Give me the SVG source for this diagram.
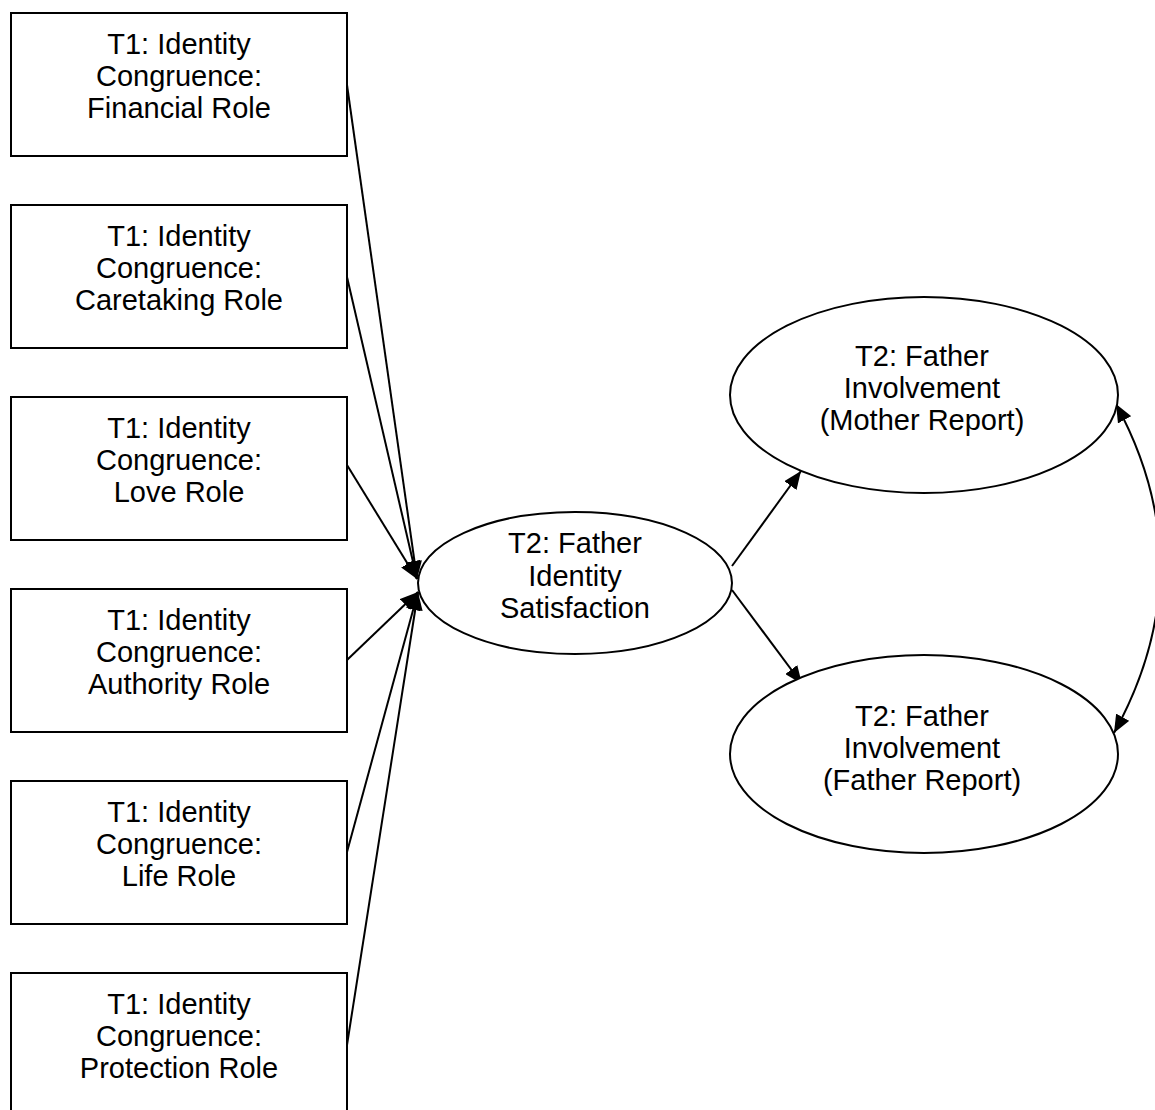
<svg xmlns="http://www.w3.org/2000/svg" width="1155" height="1110" viewBox="0 0 1155 1110">
<style>
.box{fill:#fff;stroke:#000;stroke-width:2}
.ell{fill:#fff;stroke:#000;stroke-width:2}
.t{font-family:"Liberation Sans",Arial,sans-serif;font-size:29px;fill:#000;text-anchor:middle}
.c{fill:none;stroke:#000;stroke-width:2}
</style>
<defs>
<marker id="a" viewBox="0 0 12 10" refX="12" refY="5" markerWidth="18" markerHeight="15" markerUnits="userSpaceOnUse" orient="auto-start-reverse">
<path d="M0,0 L12,5 L0,10 z" fill="#000"/>
</marker>
</defs>
<g id="connectors">
<line class="c" x1="347" y1="85" x2="417" y2="579" marker-end="url(#a)"/>
<line class="c" x1="347" y1="277" x2="417" y2="579" marker-end="url(#a)"/>
<line class="c" x1="347" y1="465" x2="417" y2="579" marker-end="url(#a)"/>
<line class="c" x1="347" y1="660" x2="418" y2="592" marker-end="url(#a)"/>
<line class="c" x1="347" y1="852" x2="418" y2="592" marker-end="url(#a)"/>
<line class="c" x1="347" y1="1045" x2="418" y2="592" marker-end="url(#a)"/>
<line class="c" x1="732" y1="566" x2="801" y2="471" marker-end="url(#a)"/>
<line class="c" x1="732" y1="590" x2="802" y2="684" marker-end="url(#a)"/>
<path class="c" d="M1116,404 Q1205,568 1114,733" marker-start="url(#a)" marker-end="url(#a)"/>
</g>
<g id="box1"><rect class="box" x="11" y="13" width="336" height="143"/>
<text class="t" x="179" y="54">T1: Identity</text><text class="t" x="179" y="86">Congruence:</text><text class="t" x="179" y="118">Financial Role</text></g>
<g id="box2"><rect class="box" x="11" y="205" width="336" height="143"/>
<text class="t" x="179" y="246">T1: Identity</text><text class="t" x="179" y="278">Congruence:</text><text class="t" x="179" y="310">Caretaking Role</text></g>
<g id="box3"><rect class="box" x="11" y="397" width="336" height="143"/>
<text class="t" x="179" y="438">T1: Identity</text><text class="t" x="179" y="470">Congruence:</text><text class="t" x="179" y="502">Love Role</text></g>
<g id="box4"><rect class="box" x="11" y="589" width="336" height="143"/>
<text class="t" x="179" y="630">T1: Identity</text><text class="t" x="179" y="662">Congruence:</text><text class="t" x="179" y="694">Authority Role</text></g>
<g id="box5"><rect class="box" x="11" y="781" width="336" height="143"/>
<text class="t" x="179" y="822">T1: Identity</text><text class="t" x="179" y="854">Congruence:</text><text class="t" x="179" y="886">Life Role</text></g>
<g id="box6"><rect class="box" x="11" y="973" width="336" height="143"/>
<text class="t" x="179" y="1014">T1: Identity</text><text class="t" x="179" y="1046">Congruence:</text><text class="t" x="179" y="1078">Protection Role</text></g>
<g id="satisfaction"><ellipse class="ell" cx="575" cy="583" rx="157" ry="71"/>
<text class="t" x="575" y="553">T2: Father</text><text class="t" x="575" y="586">Identity</text><text class="t" x="575" y="618">Satisfaction</text></g>
<g id="mother"><ellipse class="ell" cx="924" cy="395" rx="194" ry="98"/>
<text class="t" x="922" y="366">T2: Father</text><text class="t" x="922" y="398">Involvement</text><text class="t" x="922" y="430">(Mother Report)</text></g>
<g id="father"><ellipse class="ell" cx="924" cy="754" rx="194" ry="99"/>
<text class="t" x="922" y="726">T2: Father</text><text class="t" x="922" y="758">Involvement</text><text class="t" x="922" y="790">(Father Report)</text></g>
</svg>
